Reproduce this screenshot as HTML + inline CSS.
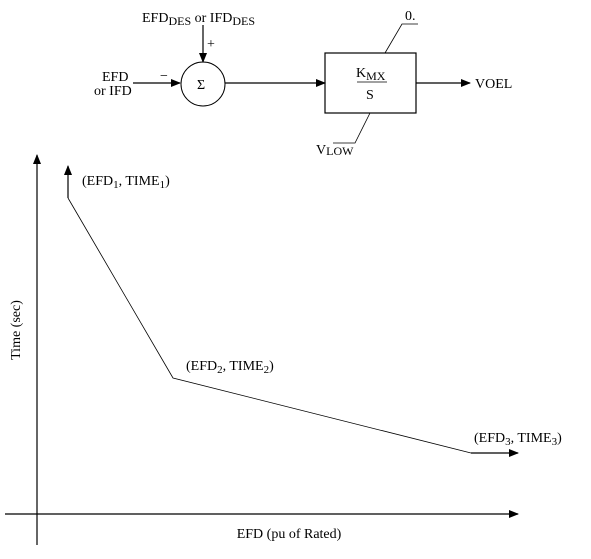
<!DOCTYPE html>
<html><head><meta charset="utf-8"><style>
body{margin:0;background:#fff;}
svg text{font-family:"Liberation Serif",serif;font-size:14px;fill:#000;}
</style></head><body>
<svg width="591" height="554" viewBox="0 0 591 554" xmlns="http://www.w3.org/2000/svg">
<defs><marker id="a" markerWidth="10" markerHeight="8" refX="9" refY="4" orient="auto" markerUnits="userSpaceOnUse"><path d="M0,0 L10,4 L0,8 z" fill="#000"/></marker></defs>
<g stroke="#000" fill="none" stroke-width="1.2">
<line x1="203" y1="25" x2="203" y2="62" marker-end="url(#a)"/>
<line x1="133" y1="83" x2="180" y2="83" marker-end="url(#a)"/>
<circle cx="203" cy="84" r="22" stroke-width="1"/>
<line x1="225" y1="83" x2="325" y2="83" marker-end="url(#a)"/>
<rect x="325" y="53" width="91" height="60"/>
<line x1="416" y1="83" x2="470" y2="83" marker-end="url(#a)"/>
<polyline points="385,53 402,24 418,24" stroke-width="0.8"/>
<polyline points="370,113 355,143 333,143" stroke-width="0.8"/>
<line x1="357" y1="82" x2="387" y2="82" stroke-width="0.8"/>
<line x1="37" y1="545" x2="37" y2="155" marker-end="url(#a)"/>
<line x1="5" y1="514" x2="518" y2="514" marker-end="url(#a)"/>
<line x1="68" y1="198" x2="68" y2="166" marker-end="url(#a)"/>
<polyline points="68,198 173,378 471,453" stroke-width="0.8"/>
<line x1="471" y1="453" x2="518" y2="453" marker-end="url(#a)"/>
</g>
<text x="142" y="22">EFD<tspan font-size="12" dy="3">DES</tspan><tspan dy="-3"> or IFD</tspan><tspan font-size="12" dy="3">DES</tspan></text>
<text x="207" y="48">+</text>
<text x="160" y="80">−</text>
<text x="102" y="81">EFD</text>
<text x="94" y="95">or IFD</text>
<text x="197" y="89">Σ</text>
<text x="356" y="77">K<tspan font-size="12" dy="3">MX</tspan></text>
<text x="366" y="99">S</text>
<text x="405" y="20">0.</text>
<text x="316" y="154">V<tspan font-size="12" dy="1">LOW</tspan></text>
<text x="475" y="88">VOEL</text>
<text x="82" y="185">(EFD<tspan font-size="11" dy="3">1</tspan><tspan dy="-3">, TIME</tspan><tspan font-size="11" dy="3">1</tspan><tspan dy="-3">)</tspan></text>
<text x="186" y="370">(EFD<tspan font-size="11" dy="3">2</tspan><tspan dy="-3">, TIME</tspan><tspan font-size="11" dy="3">2</tspan><tspan dy="-3">)</tspan></text>
<text x="474" y="442">(EFD<tspan font-size="11" dy="3">3</tspan><tspan dy="-3">, TIME</tspan><tspan font-size="11" dy="3">3</tspan><tspan dy="-3">)</tspan></text>
<text x="289" y="538" text-anchor="middle">EFD (pu of Rated)</text>
<text transform="translate(20,330) rotate(-90)" text-anchor="middle">Time (sec)</text>
</svg>
</body></html>
